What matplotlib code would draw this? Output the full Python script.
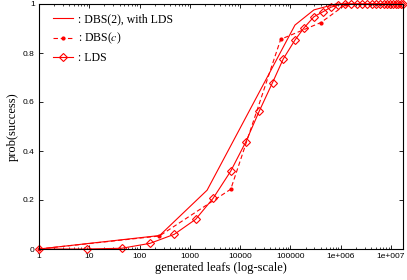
import matplotlib
matplotlib.use('Agg')
import matplotlib.pyplot as plt
import numpy as np

plt.rcParams['mathtext.fontset'] = 'stix'

# DBS(2), with LDS (solid, no markers)
dbs2_x = [1, 250, 2200, 123000, 293000, 800000, 1.7e7]
dbs2_y = [0, 0.055, 0.24, 0.914, 0.976, 1.0, 1.0]

# DBS(c) (dashed, small dots)
dbsc_x = [1, 247, 6500, 64000, 400000, 1.3e6]
dbsc_y = [0, 0.053, 0.244, 0.856, 0.924, 1.0]

# LDS (solid, open diamonds)
lds_x = [1, 8.9, 44, 161, 490, 1300, 2900, 6500, 13000, 24000, 44000, 72000,
         123000, 187000, 293000, 450000, 640000, 890000, 1.2e6, 1.6e6, 2.1e6,
         2.7e6, 3.4e6, 4.2e6, 5.1e6, 6.1e6, 7.2e6, 8.4e6, 9.7e6, 1.1e7,
         1.25e7, 1.4e7, 1.55e7, 1.7e7]
lds_y = [0, 0, 0.003, 0.023, 0.06, 0.121, 0.207, 0.318, 0.438, 0.563, 0.679,
         0.776, 0.853, 0.903, 0.948, 0.969, 0.987, 0.996, 1, 1, 1, 1, 1, 1, 1,
         1, 1, 1, 1, 1, 1, 1, 1, 1]

xticks = [1, 10, 100, 1000, 10000, 100000, 1e6, 1e7]
xticklabels = ['1', '10', '100', '1000', '10000', '100000', '1e+006', '1e+007']
yticks = [0, 0.2, 0.4, 0.6, 0.8, 1]
yticklabels = ['0', '0.2', '0.4', '0.6', '0.8', '1']

serif = ['Liberation Serif', 'DejaVu Serif']
sans = ['Liberation Sans', 'DejaVu Sans']

fig = plt.figure(figsize=(4.07, 2.80), dpi=100)
ax = fig.add_axes([39/407, 31/280, 364/407, 245/280])

red = '#ff0000'
l1, = ax.plot(dbs2_x, dbs2_y, color=red, lw=0.8, clip_on=False)
l2, = ax.plot(dbsc_x, dbsc_y, color=red, lw=0.8, ls=(0, (4, 2.5)),
              marker='o', ms=2, mfc=red, mec=red, clip_on=False)
l3, = ax.plot(lds_x, lds_y, color=red, lw=0.8, marker='D', ms=3.8,
              mfc='none', mec=red, mew=0.8, clip_on=False)

ax.set_xscale('log')
ax.set_xlim(1, 1.73e7)
ax.set_ylim(0, 1)
ax.set_xticks(xticks)
ax.set_xticklabels(xticklabels, family=sans, fontsize=6)
ax.set_yticks(yticks)
ax.set_yticklabels(yticklabels, family=sans, fontsize=6)
ax.tick_params(which='both', direction='in', top=True, right=True, pad=3)
ax.tick_params(which='major', length=3, width=0.6)
ax.tick_params(which='minor', length=1.5, width=0.5)
for s in ax.spines.values():
    s.set_linewidth(0.8)

ax.set_xlabel('generated leafs (log-scale)', family=serif, fontsize=9, labelpad=1)
ax.set_ylabel('prob(success)', family=serif, fontsize=9, labelpad=3)

ax.legend([l1, l2, l3], [': DBS(2), with LDS', ': DBS($c$)', ': LDS'],
          loc='upper left', frameon=False, prop={'family': serif, 'size': 8.5},
          handlelength=1.7, handletextpad=0.45, labelspacing=0.45,
          borderaxespad=0, bbox_to_anchor=(0.025, 0.98))

plt.savefig('out.png', dpi=100)
